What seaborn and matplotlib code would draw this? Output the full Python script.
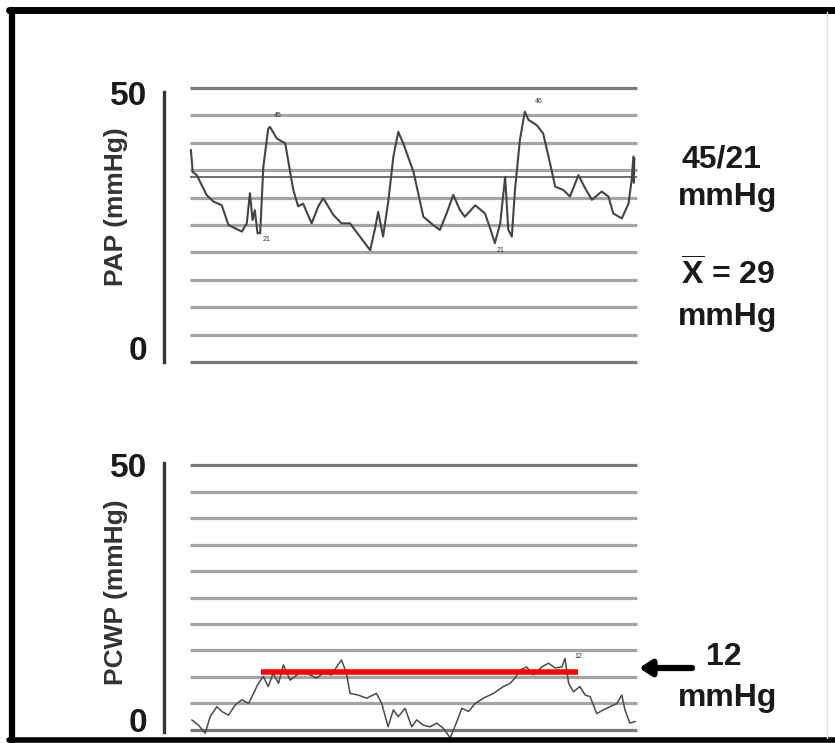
"""PAP and PCWP pressure traces, redrawn from a monitor printout."""

import matplotlib

matplotlib.use("Agg")
import matplotlib.pyplot as plt
import seaborn as sns
from matplotlib.lines import Line2D

# PAP trace (time in % of strip, pressure in mmHg)
pap_t = [0.2, 0.6, 1.5, 3.7, 5.2, 7.1, 8.6, 10.1, 11.6, 12.7, 13.4, 14.0, 14.5, 15.1, 15.7,
         16.4, 17.5, 17.9, 19.4, 21.3, 23.1, 24.2, 25.3, 27.2, 28.7, 29.8, 32.1, 33.9, 35.8,
         38.0, 40.3, 41.4, 42.1, 43.2, 44.4, 45.5, 46.6, 47.7, 50.0, 52.2, 54.4, 55.9, 57.4,
         58.9, 60.4, 61.5, 63.8, 66.0, 67.5, 68.2, 69.4, 70.5, 71.2, 72.0, 72.7, 73.8, 74.9,
         75.7, 77.6, 79.0, 80.2, 81.7, 83.5, 85.0, 86.9, 88.4, 89.9, 92.1, 93.6, 94.7, 96.6,
         98.1, 98.8, 99.2, 99.3, 99.4]
pap_mmhg = [38.7, 34.7, 34.1, 30.5, 29.3, 28.6, 25.0, 24.4, 23.8, 25.3, 30.8, 25.9, 27.7, 23.5,
            23.5, 35.6, 42.6, 42.9, 40.8, 39.9, 31.4, 28.4, 28.9, 25.3, 28.4, 29.9, 26.8, 25.3,
            25.3, 22.9, 20.4, 24.4, 27.4, 22.9, 29.6, 37.5, 42.0, 39.9, 34.7, 26.5, 25.0, 24.1,
            27.1, 30.5, 27.7, 26.5, 28.6, 27.1, 23.5, 21.7, 25.3, 33.8, 24.1, 22.9, 31.4, 40.5,
            45.7, 44.2, 43.2, 41.7, 37.5, 32.0, 31.4, 30.2, 34.1, 31.7, 29.6, 31.1, 30.2, 27.1,
            26.2, 28.9, 33.2, 37.5, 32.7, 37.2]
pap_mean_line = 33.8
pap_marks = ["45", "21", "46", "21"]
pap_mark_t = [19.7, 17.2, 78.1, 69.4]
pap_mark_y = [44.9, 22.3, 47.5, 20.4]

# PCWP trace
pcwp_t = [0.4, 1.9, 3.4, 4.5, 6.0, 7.1, 8.6, 10.1, 11.6, 13.1, 14.2, 15.3, 16.4, 17.5, 18.6,
          19.8, 20.9, 22.4, 23.9, 25.3, 26.8, 28.3, 29.8, 31.7, 32.8, 33.9, 35.0, 35.8, 37.6,
          39.5, 41.7, 42.9, 44.3, 45.5, 46.6, 48.1, 49.6, 50.7, 52.2, 53.7, 55.2, 56.7, 58.2,
          59.7, 60.8, 62.3, 63.8, 65.6, 67.9, 70.1, 71.6, 72.7, 73.8, 75.3, 76.8, 78.7, 80.2,
          81.7, 83.2, 83.9, 84.7, 85.8, 87.2, 88.4, 89.5, 91.0, 92.5, 94.0, 95.5, 96.6, 97.3,
          98.4, 99.6]
pcwp_mmhg = [1.9, 0.9, -0.6, 2.5, 4.4, 3.5, 2.8, 4.7, 5.7, 5.0, 6.9, 8.8, 10.1, 8.2, 10.7, 8.8,
             12.3, 9.4, 10.4, 11.3, 10.4, 9.8, 10.7, 10.4, 11.9, 13.2, 10.7, 6.9, 6.6, 6.0, 6.9,
             5.0, 0.6, 3.8, 2.5, 4.1, 0.6, 1.9, 0.9, 0.6, 1.3, 0.3, -1.5, 1.6, 4.1, 3.5, 5.0,
             6.0, 6.9, 8.2, 8.8, 9.8, 11.3, 11.9, 10.4, 11.9, 12.6, 11.7, 11.9, 13.5, 8.8, 7.2,
             8.2, 6.6, 6.3, 3.1, 3.8, 4.4, 5.0, 6.6, 3.8, 1.3, 1.6]
pcwp_level = 11.0
pcwp_level_span = [15.9, 86.8]

grid_levels = [0, 5, 10, 15, 20, 25, 30, 35, 40, 45, 50]
ytick_text = ["0", "50"]

sns.set_style("white")
plt.rcParams["font.family"] = ["Liberation Sans", "DejaVu Sans"]
plt.rcParams["mathtext.fontset"] = "custom"
plt.rcParams["mathtext.rm"] = "Liberation Sans:bold"
plt.rcParams["mathtext.bf"] = "Liberation Sans:bold"

W, H = 835, 743
fig = plt.figure(figsize=(W / 100, H / 100), dpi=100)


def px_axes(left, top, right, bottom):
    return fig.add_axes([left / W, 1 - bottom / H, (right - left) / W, (bottom - top) / H])


def style_panel(ax, ylim, spine_bounds, tick_pos, ylabel, label_y):
    ax.set_xlim(-5.82, 100.67)
    ax.set_ylim(*ylim)
    for side in ["top", "right", "bottom"]:
        ax.spines[side].set_visible(False)
    ax.spines["left"].set_color("#333333")
    ax.spines["left"].set_linewidth(2.4)
    ax.spines["left"].set_bounds(*spine_bounds)
    ax.set_xticks([])
    ax.set_yticks(tick_pos)
    ax.set_yticklabels(ytick_text, fontsize=24, fontweight="bold", color="#1a1a1a")
    ax.tick_params(axis="y", length=0, pad=12)
    ax.set_xlabel("")
    ax.set_ylabel(ylabel, fontsize=19, fontweight="bold", color="#333333")
    ax.yaxis.set_label_coords(-0.076, label_y)
    colors = ["#7a7a7a"] + ["#a5a5a5"] * (len(grid_levels) - 2) + ["#7a7a7a"]
    ax.hlines(grid_levels, 0, 100, colors=colors, linewidth=2.3, zorder=1)


# top panel: pulmonary artery pressure
ax1 = px_axes(164, 80, 640, 370)
style_panel(ax1, (-1.46, 51.46), (0, 49.3), [2.6, 49.1], "PAP (mmHg)", 0.562)
ax1.hlines(pap_mean_line, 0, 100, colors="#555555", linewidth=1.2, zorder=2)
sns.lineplot(x=pap_t, y=pap_mmhg, ax=ax1, sort=False, estimator=None,
             color="#444444", linewidth=1.5, zorder=3)
for s, t, y in zip(pap_marks, pap_mark_t, pap_mark_y):
    ax1.text(t, y, s, fontsize=5, color="#333333", ha="center", va="center")

# bottom panel: wedge pressure
ax2 = px_axes(164, 455, 640, 740)
style_panel(ax2, (-1.89, 51.89), (-0.4, 50.4), [1.9, 50.0], "PCWP (mmHg)", 0.519)
sns.lineplot(x=pcwp_t, y=pcwp_mmhg, ax=ax2, sort=False, estimator=None,
             color="#4a4a4a", linewidth=1.1, zorder=3)
ax2.hlines(pcwp_level, *pcwp_level_span, colors="#ff0000", linewidth=4, zorder=4)
ax2.text(86.8, 13.8, "12", fontsize=5, color="#333333", ha="center", va="center")

# side annotations
txt = dict(fontsize=23, fontweight="bold", color="#1a1a1a", ha="center", va="center")
fig.text(721 / W, 1 - 160 / H, "45/21", **txt)
fig.text(728 / W, 1 - 197 / H, "mmHg", **txt)
fig.text(728 / W, 1 - 275 / H, r"$\overline{\mathrm{X}}$ = 29", **txt)
fig.text(728 / W, 1 - 317 / H, "mmHg", **txt)
fig.text(724 / W, 1 - 657 / H, "12", **txt)
fig.text(728 / W, 1 - 698 / H, "mmHg", **txt)
fig.add_artist(plt.Annotation(
    "", xy=(639, H - 668), xytext=(692, H - 668),
    xycoords="figure pixels", textcoords="figure pixels",
    arrowprops=dict(arrowstyle="-|>,head_length=0.7,head_width=0.45", color="black",
                    lw=4.5, shrinkA=0, shrinkB=0)))

# picture frame
frame = [([12, 12], [10, 741], 4.5, "black"),
         ([9, 835], [10, 10], 5, "black"),
         ([9, 835], [740, 740], 4, "black"),
         ([827, 827], [12, 738], 1, "#e2e2e2")]
for xs, ys, lw, c in frame:
    fig.add_artist(Line2D([x / W for x in xs], [1 - y / H for y in ys],
                          transform=fig.transFigure, color=c, linewidth=lw))

fig.savefig("out.png", dpi=100)
plt.close(fig)
